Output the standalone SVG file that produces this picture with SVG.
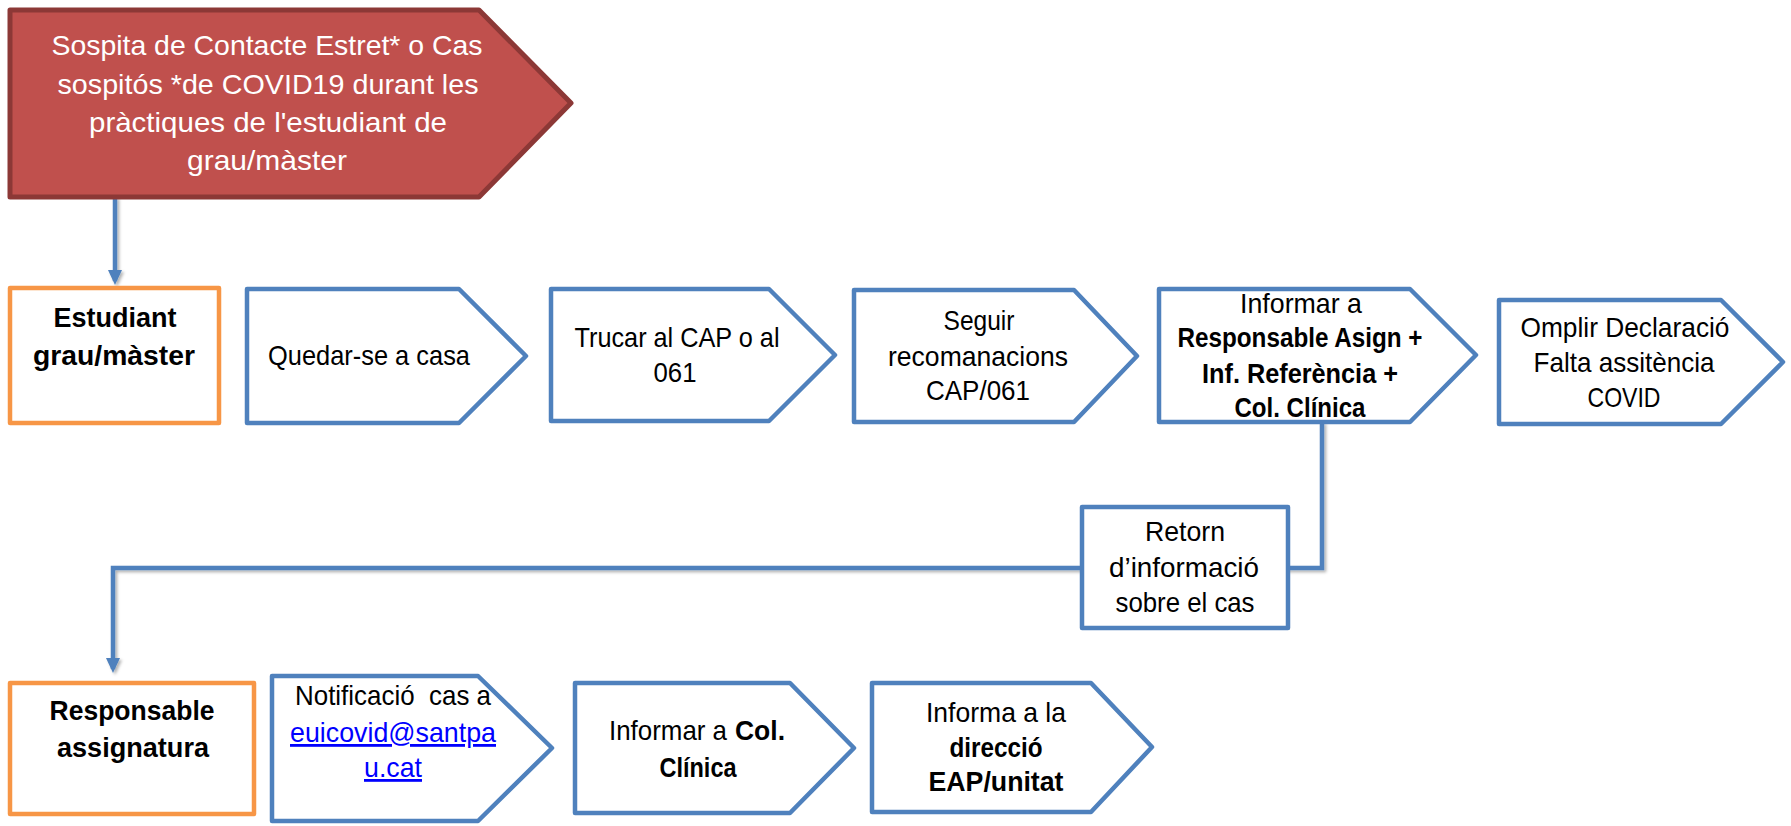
<svg xmlns="http://www.w3.org/2000/svg" width="1791" height="826" viewBox="0 0 1791 826">
<style>
text{font-family:"Liberation Sans",Arial,sans-serif;font-size:28px;fill:#000;text-anchor:middle}
.b{font-weight:bold}
.w{fill:#fff}
.s{text-anchor:start}
.lnk{fill:#0000FF;text-decoration:underline}
.step{fill:#fff;stroke:#4F81BD;stroke-width:4.5;stroke-linejoin:round}
.actor{fill:#fff;stroke:#F79646;stroke-width:4.5;stroke-linejoin:round}
.start{fill:#C0504D;stroke:#8C3836;stroke-width:5;stroke-linejoin:round}
.conn{fill:none;stroke:#4F81BD;stroke-width:4.5}
</style>
<defs>
<marker id="arr" markerUnits="userSpaceOnUse" markerWidth="16" markerHeight="16" viewBox="0 0 16 16" refX="11" refY="8" orient="auto">
<path d="M0,1 L15,8 L0,15 z" fill="#4F81BD"/>
</marker>
<filter id="sh" x="-5%" y="-5%" width="110%" height="110%">
<feDropShadow dx="2" dy="2" stdDeviation="1.5" flood-color="#000" flood-opacity="0.3"/>
</filter>
</defs>

<g id="connectors" filter="url(#sh)">
<path class="conn" d="M115,197 V281" marker-end="url(#arr)"/>
<path class="conn" d="M1322,422 V568 H113 V669" marker-end="url(#arr)"/>
</g>

<g id="n-sospita">
<polygon class="start" points="10,10 479,10 571,103 479,197 10,197"/>
<text class="w" x="267" y="55" textLength="431" lengthAdjust="spacingAndGlyphs">Sospita de Contacte Estret* o Cas</text>
<text class="w" x="268" y="94" textLength="421" lengthAdjust="spacingAndGlyphs">sospitós *de COVID19 durant les</text>
<text class="w" x="268" y="132" textLength="358" lengthAdjust="spacingAndGlyphs">pràctiques de l'estudiant de</text>
<text class="w" x="267" y="170" textLength="160" lengthAdjust="spacingAndGlyphs">grau/màster</text>
</g>

<g id="n-estudiant">
<rect class="actor" x="10" y="288" width="209" height="135"/>
<text class="b" x="115" y="327" textLength="123" lengthAdjust="spacingAndGlyphs">Estudiant</text>
<text class="b" x="114" y="365" textLength="162" lengthAdjust="spacingAndGlyphs">grau/màster</text>
</g>

<g id="n-quedar">
<polygon class="step" points="247,289 459,289 526,356 459,423 247,423"/>
<text x="369" y="365" textLength="202" lengthAdjust="spacingAndGlyphs">Quedar-se a casa</text>
</g>

<g id="n-trucar">
<polygon class="step" points="551,289 769,289 835,355 769,421 551,421"/>
<text x="677" y="347" textLength="205" lengthAdjust="spacingAndGlyphs">Trucar al CAP o al</text>
<text x="675" y="382" textLength="43" lengthAdjust="spacingAndGlyphs">061</text>
</g>

<g id="n-seguir">
<polygon class="step" points="854,290 1074,290 1137,356 1074,422 854,422"/>
<text x="979" y="330" textLength="71" lengthAdjust="spacingAndGlyphs">Seguir</text>
<text x="978" y="366" textLength="180" lengthAdjust="spacingAndGlyphs">recomanacions</text>
<text x="978" y="400" textLength="104" lengthAdjust="spacingAndGlyphs">CAP/061</text>
</g>

<g id="n-informar">
<polygon class="step" points="1159,289 1410,289 1476,355 1410,422 1159,422"/>
<text x="1301" y="313" textLength="122" lengthAdjust="spacingAndGlyphs">Informar a</text>
<text class="b" x="1300" y="347" textLength="245" lengthAdjust="spacingAndGlyphs">Responsable Asign +</text>
<text class="b" x="1300" y="383" textLength="196" lengthAdjust="spacingAndGlyphs">Inf. Referència +</text>
<text class="b" x="1300" y="417" textLength="131" lengthAdjust="spacingAndGlyphs">Col. Clínica</text>
</g>

<g id="n-omplir">
<polygon class="step" points="1499,300 1721,300 1783,362 1721,424 1499,424"/>
<text x="1625" y="337" textLength="209" lengthAdjust="spacingAndGlyphs">Omplir Declaració</text>
<text x="1624" y="372" textLength="181" lengthAdjust="spacingAndGlyphs">Falta assitència</text>
<text x="1624" y="407" textLength="73" lengthAdjust="spacingAndGlyphs">COVID</text>
</g>

<g id="n-retorn">
<rect class="step" x="1082" y="507" width="206" height="121"/>
<text x="1185" y="541" textLength="80" lengthAdjust="spacingAndGlyphs">Retorn</text>
<text x="1184" y="577" textLength="150" lengthAdjust="spacingAndGlyphs">d’informació</text>
<text x="1185" y="612" textLength="139" lengthAdjust="spacingAndGlyphs">sobre el cas</text>
</g>

<g id="n-responsable">
<rect class="actor" x="10" y="683" width="244" height="131"/>
<text class="b" x="132" y="720" textLength="165" lengthAdjust="spacingAndGlyphs">Responsable</text>
<text class="b" x="133" y="757" textLength="152" lengthAdjust="spacingAndGlyphs">assignatura</text>
</g>

<g id="n-notificacio">
<polygon class="step" points="272,676 478,676 552,748 478,821 272,821"/>
<text x="393" y="705" xml:space="preserve" textLength="196" lengthAdjust="spacingAndGlyphs">Notificació  cas a</text>
<text class="lnk" x="393" y="742" textLength="206" lengthAdjust="spacingAndGlyphs">euicovid@santpa</text>
<text class="lnk" x="393" y="777" textLength="58" lengthAdjust="spacingAndGlyphs">u.cat</text>
</g>

<g id="n-colclinica">
<polygon class="step" points="575,683 790,683 854,748 790,813 575,813"/>
<text class="s" x="609" y="740" textLength="118" lengthAdjust="spacingAndGlyphs">Informar a</text>
<text class="s b" x="735" y="740" textLength="50" lengthAdjust="spacingAndGlyphs">Col.</text>
<text class="b" x="698" y="777" textLength="77" lengthAdjust="spacingAndGlyphs">Clínica</text>
</g>

<g id="n-direccio">
<polygon class="step" points="872,683 1091,683 1152,747 1091,812 872,812"/>
<text x="996" y="722" textLength="140" lengthAdjust="spacingAndGlyphs">Informa a la</text>
<text class="b" x="996" y="757" textLength="93" lengthAdjust="spacingAndGlyphs">direcció</text>
<text class="b" x="996" y="791" textLength="135" lengthAdjust="spacingAndGlyphs">EAP/unitat</text>
</g>
</svg>
